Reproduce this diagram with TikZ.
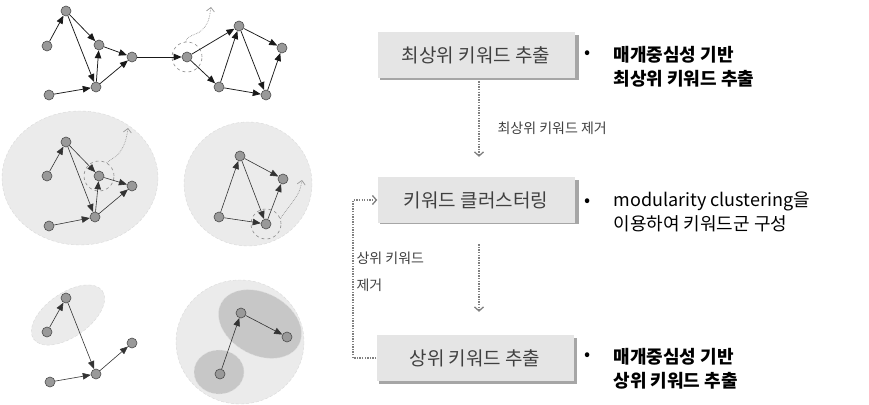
\documentclass[tikz,border=0pt]{standalone}
\usepackage{fontspec}
\setmainfont{Noto Sans CJK KR}
\usetikzlibrary{arrows.meta,positioning}
\begin{document}
\begin{tikzpicture}[x=1pt,y=-1pt,
  vtx/.style={circle,fill=black!40,draw=black!70,line width=0.6pt,inner sep=0pt,minimum size=10pt},
  edge/.style={-{Triangle[length=8pt,width=6.5pt]},line width=0.75pt,black!90},
  sedge/.style={-{Triangle[length=8pt,width=6.5pt]},line width=0.6pt,black!80},
  focus/.style={circle,draw=black!45,dashed,line width=0.6pt,minimum size=30pt,inner sep=0pt},
  wavy/.style={-{Straight Barb[length=4pt,width=8pt]},draw=black!40,densely dotted,line width=0.7pt},
  cluster/.style={fill=black!8,draw=black!15,densely dashed,line width=0.4pt},
  subcluster/.style={fill=black!22,draw=black!12,densely dashed,line width=0.4pt},
  stepbox/.style={fill=black!10,minimum width=197pt,minimum height=46pt,inner sep=0pt,text=black!75,font=\fontsize{19}{22}\selectfont},
  dotarrow/.style={-{Straight Barb[length=4pt,width=9pt]},draw=black!50,dash pattern=on 1.3pt off 1.3pt,line width=1.3pt},
  bullettext/.style={anchor=west,align=left,font=\fontsize{18}{24}\selectfont},
  hand/.style={anchor=west,text=black!75,font=\fontsize{14}{16}\selectfont}
]
\useasboundingbox (0,0) rectangle (869,404);

% ---------- clusters (backgrounds) ----------
\draw[cluster] (80,178) ellipse [x radius=78, y radius=67];
\draw[cluster] (248,184) ellipse [x radius=64, y radius=62];
\draw[cluster,rotate around={35:(68,315)}] (68,315) ellipse [x radius=42, y radius=22];
\draw[cluster] (240,342) ellipse [x radius=64, y radius=62];
\draw[subcluster,rotate around={-28:(260,324)}] (260,324) ellipse [x radius=44, y radius=31];
\draw[subcluster] (219,372) ellipse [x radius=25, y radius=22];

% ---------- top graph ----------
\node[vtx] (t1) at (66,11) {};
\node[vtx] (t2) at (47,46) {};
\node[vtx] (t3) at (99,45) {};
\node[vtx] (t4) at (132,57) {};
\node[vtx] (t5) at (96,87) {};
\node[vtx] (t6) at (49,95) {};
\node[vtx] (t7) at (187,57) {};
\node[vtx] (t8) at (239,26) {};
\node[vtx] (t9) at (282,48) {};
\node[vtx] (t10) at (219,87) {};
\node[vtx] (t11) at (266,95) {};
\node[focus] (c1) at (t7) {};
\foreach \a/\b in {t2/t1,t1/t3,t1/t5,t6/t5,t5/t3,t3/t4,t5/t4,t4/t7,t7/t8,t7/t10,t10/t8,t8/t9,t8/t11,t10/t11,t11/t9}
  \draw[edge] (\a) -- (\b);
\draw[wavy] (c1.95) .. controls (188,34) and (196,36) .. (202,30) .. controls (207,25) and (209,22) .. (211,7);

% ---------- middle-left graph ----------
\node[vtx] (m1) at (66,142) {};
\node[vtx] (m2) at (47,176) {};
\node[vtx] (m3) at (99,176) {};
\node[vtx] (m4) at (132,186) {};
\node[vtx] (m5) at (95,217) {};
\node[vtx] (m6) at (49,226) {};
\node[focus] (c2) at (m3) {};
\foreach \a/\b in {m2/m1,m1/m3,m1/m5,m6/m5,m5/m3,m3/m4,m5/m4}
  \draw[sedge] (\a) -- (\b);
\draw[wavy] (c2.60) .. controls (112,158) and (116,158) .. (120,152) .. controls (124,146) and (126,142) .. (128,128);

% ---------- middle-right graph ----------
\node[vtx] (r1) at (240,156) {};
\node[vtx] (r2) at (283,179) {};
\node[vtx] (r3) at (219,217) {};
\node[vtx] (r4) at (266,224) {};
\node[focus] (c3) at (r4) {};
\foreach \a/\b in {r3/r1,r1/r2,r1/r4,r3/r4,r4/r2}
  \draw[sedge] (\a) -- (\b);
\draw[wavy] (c3.20) .. controls (286,210) and (290,206) .. (294,200) .. controls (298,194) and (300,192) .. (302,180);

% ---------- bottom-left graph ----------
\node[vtx] (l1) at (66,298) {};
\node[vtx] (l2) at (47,332) {};
\node[vtx] (l3) at (96,374) {};
\node[vtx] (l4) at (50,382) {};
\node[vtx] (l5) at (132,343) {};
\foreach \a/\b in {l2/l1,l1/l3,l4/l3,l3/l5}
  \draw[sedge] (\a) -- (\b);

% ---------- bottom-right graph ----------
\node[vtx] (u1) at (241,313) {};
\node[vtx] (u2) at (287,337) {};
\node[vtx] (u3) at (220,374) {};
\foreach \a/\b in {u3/u1,u1/u2}
  \draw[sedge] (\a) -- (\b);

% ---------- process boxes ----------
\fill[black!35] (380,35) rectangle (579,80);
\node[stepbox] (b1) at (476,55) {최상위 키워드 추출};
\fill[black!35] (380,180) rectangle (579,224);
\node[stepbox] (b2) at (476,200) {키워드 클러스터링};
\fill[black!35] (379,338) rectangle (577,384);
\node[stepbox] (b3) at (475,358) {상위 키워드 추출};

% bullets and descriptions
\node (d1b) at (588,55) {\fontsize{18}{18}\selectfont •};
\node[bullettext] (d1) at (610,67) {\textbf{매개중심성 기반}\\\textbf{최상위 키워드 추출}};
\node (d2b) at (588,203) {\fontsize{18}{18}\selectfont •};
\node[bullettext] (d2) at (610,212) {modularity clustering을\\이용하여 키워드군 구성};
\node (d3b) at (588,357) {\fontsize{18}{18}\selectfont •};
\node[bullettext] (d3) at (610,369) {\textbf{매개중심성 기반}\\\textbf{상위 키워드 추출}};

% connectors
\draw[dotarrow] ([xshift=3pt,yshift=-3pt]b1.south) -- ([xshift=3pt,yshift=20pt]b2.north);
\draw[dotarrow] ([xshift=3pt,yshift=-21pt]b2.south) -- ([xshift=4pt,yshift=23pt]b3.north);
\coordinate (fb) at (353,358);
\draw[dotarrow] (b3.west) -- (fb) |- (b2.west);

% labels
\node[hand] (h1) at (494,128) {최상위 키워드 제거};
\node[hand] (h2) at (353,258) {상위 키워드};
\node[hand] (h3) at (353,285) {제거};
\end{tikzpicture}
\end{document}
